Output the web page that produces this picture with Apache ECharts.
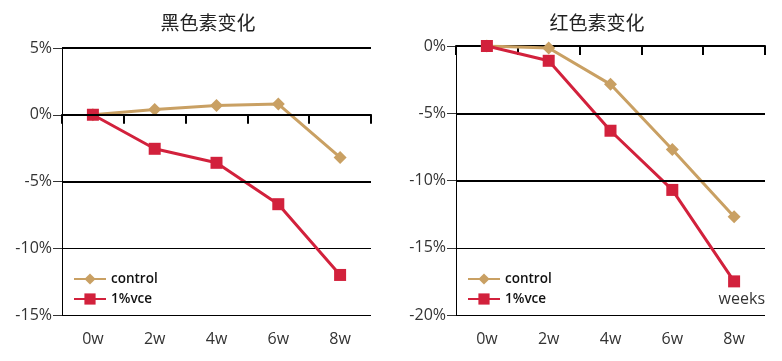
<!DOCTYPE html>
<html>
<head>
<meta charset="utf-8">
<script src="https://cdn.jsdelivr.net/npm/echarts@6/dist/echarts.min.js"></script>
<style>
html,body{margin:0;padding:0;background:#fff;}
#c{width:782px;height:361px;}
</style>
</head>
<body>
<div id="c"></div>
<script>
var categories = ['0w', '2w', '4w', '6w', '8w'];
var seriesNames = ['control', '1%vce'];
var melaninControl = [0, 0.4, 0.7, 0.8, -3.2];
var melaninVce = [0, -2.55, -3.6, -6.7, -12.0];
var erythemaControl = [0, -0.15, -2.85, -7.7, -12.7];
var erythemaVce = [0, -1.1, -6.3, -10.7, -17.5];
var titles = ['黑色素变化', '红色素变化'];
var leftTicks = [-15, -10, -5, 0, 5];
var rightTicks = [-20, -15, -10, -5, 0];

var tan = '#C9A063';
var red = '#D2213C';
var font = '"Open Sans", "Noto Sans", sans-serif';
var cjk = '"Noto Sans CJK SC", sans-serif';

function xAxis(gi) {
  return {
    type: 'category', gridIndex: gi, data: categories, boundaryGap: true,
    axisLine: {lineStyle: {color: '#000', width: 2}},
    axisTick: {show: true, length: 9, lineStyle: {color: '#000', width: 2}},
    axisLabel: {color: '#333', fontSize: 16, fontFamily: font, margin: 16}
  };
}
function yAxis(gi, ticks) {
  return {
    type: 'value', gridIndex: gi, min: ticks[0], max: ticks[ticks.length - 1], interval: 5,
    axisLine: {show: true, lineStyle: {color: '#000', width: 1}},
    axisTick: {show: true, inside: false, length: 9, lineStyle: {color: '#333', width: 1}},
    axisLabel: {color: '#333', fontSize: 16, fontFamily: font, margin: 10, formatter: '{value}%'},
    splitLine: {show: true, lineStyle: {color: '#000', width: 1}}
  };
}
function thickLines(vals) {
  return {
    silent: true, symbol: 'none', label: {show: false},
    lineStyle: {color: '#000', width: 2, type: 'solid'},
    data: vals.map(function (v) { return {yAxis: v}; })
  };
}
function line(name, data, gi, color, symbol, marks) {
  var s = {
    name: name, type: 'line', xAxisIndex: gi, yAxisIndex: gi, data: data,
    symbol: symbol, symbolSize: symbol === 'diamond' ? 13 : 12, showSymbol: true,
    itemStyle: {color: color}, lineStyle: {color: color, width: 3},
    z: name === 'control' ? 3 : 4, animation: false
  };
  if (marks) s.markLine = thickLines(marks);
  return s;
}
function legend(left) {
  return {
    data: seriesNames.map(function (n) { return {name: n}; }), left: left, top: 267, orient: 'vertical', itemGap: 6,
    itemWidth: 32, itemHeight: 14, textStyle: {fontFamily: font, fontSize: 13.5, fontWeight: 600, color: '#111'}
  };
}

var chart = echarts.init(document.getElementById('c'), null, {renderer: 'canvas'});
chart.setOption({
  animation: false,
  title: [
    {text: titles[0], left: 203, top: 8, textAlign: 'center', textStyle: {fontFamily: cjk, fontSize: 19, fontWeight: 'normal', color: '#222'}},
    {text: titles[1], left: 592, top: 8, textAlign: 'center', textStyle: {fontFamily: cjk, fontSize: 19, fontWeight: 'normal', color: '#222'}}
  ],
  grid: [
    {left: 62, right: 411, top: 48, bottom: 46},
    {left: 456, right: 17, top: 46, bottom: 46}
  ],
  legend: [legend(68), legend(462)],
  xAxis: [xAxis(0), xAxis(1)],
  yAxis: [yAxis(0, leftTicks), yAxis(1, rightTicks)],
  series: [
    line(seriesNames[0], melaninControl, 0, tan, 'diamond', [5, 0, -5]),
    line(seriesNames[1], melaninVce, 0, red, 'rect'),
    line(seriesNames[0], erythemaControl, 1, tan, 'diamond', [-5, -10]),
    line(seriesNames[1], erythemaVce, 1, red, 'rect')
  ],
  graphic: [
    {type: 'text', right: 17, top: 291, style: {text: 'weeks', font: '16px ' + font, fill: '#333'}}
  ]
});
</script>
</body>
</html>
